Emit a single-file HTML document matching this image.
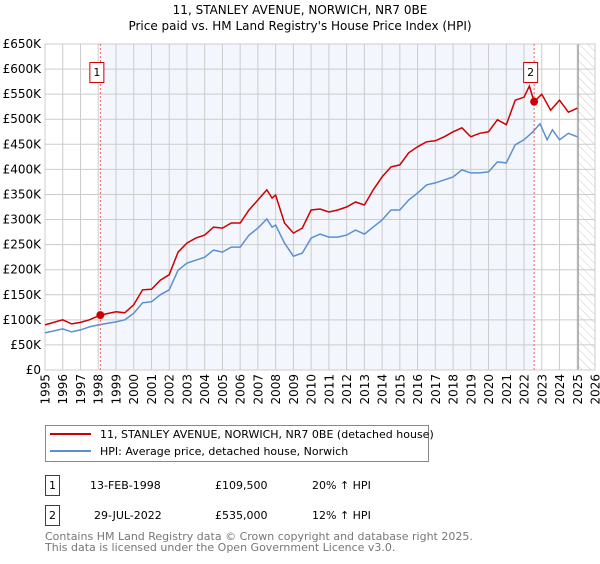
<!DOCTYPE html>
<html><head><meta charset="utf-8"><style>
body{margin:0;background:#fff;font-family:"DejaVu Sans","Liberation Sans",sans-serif;}
svg text{font-family:"DejaVu Sans","Liberation Sans",sans-serif;}
</style></head><body>
<svg id="chart" width="600" height="560" xmlns="http://www.w3.org/2000/svg">
<defs><pattern id="hatch" width="6" height="6" patternUnits="userSpaceOnUse" patternTransform="rotate(-45)"><rect width="6" height="6" fill="#fff"/><line x1="0" y1="0" x2="0" y2="6" stroke="#ccc" stroke-width="1"/></pattern></defs>
<text x="300" y="14" text-anchor="middle" font-size="12">11, STANLEY AVENUE, NORWICH, NR7 0BE</text>
<text x="300" y="30" text-anchor="middle" font-size="12">Price paid vs. HM Land Registry's House Price Index (HPI)</text>
<g id="bg"></g><g id="grid"></g><g id="axes"></g><g id="series"></g><g id="marks"></g>
<rect x="45.5" y="425.5" width="383" height="36" fill="#fff" stroke="#888"/>
<line x1="50" y1="434" x2="91" y2="434" stroke="#cc0000" stroke-width="2"/>
<text x="100" y="438" font-size="11">11, STANLEY AVENUE, NORWICH, NR7 0BE (detached house)</text>
<line x1="50" y1="451" x2="91" y2="451" stroke="#5b8fd0" stroke-width="2"/>
<text x="100" y="455" font-size="11">HPI: Average price, detached house, Norwich</text>
<g font-size="11">
<rect x="45.5" y="475.5" width="14" height="20" fill="#fff" stroke="#cc0000"/><text x="52.5" y="489" text-anchor="middle">1</text>
<text x="90" y="489">13-FEB-1998</text><text x="215" y="489">£109,500</text><text x="312" y="489">20% ↑ HPI</text></g>
<g font-size="11">
<rect x="45.5" y="505.5" width="14" height="20" fill="#fff" stroke="#cc0000"/><text x="52.5" y="519" text-anchor="middle">2</text>
<text x="94" y="519">29-JUL-2022</text><text x="215" y="519">£535,000</text><text x="312" y="519">12% ↑ HPI</text></g>
<text x="45" y="540" font-size="11" fill="#777">Contains HM Land Registry data © Crown copyright and database right 2025.</text>
<text x="45" y="551" font-size="11" fill="#777">This data is licensed under the Open Government Licence v3.0.</text>
</svg>
<script>
const hpiYears=[1995,1996,1996.5,1997,1997.5,1998,1999,1999.5,2000,2000.5,2001,2001.5,2002,2002.5,2003,2003.5,2004,2004.5,2005,2005.5,2006,2006.5,2007,2007.5,2007.8,2008,2008.5,2009,2009.5,2010,2010.5,2011,2011.5,2012,2012.5,2013,2013.5,2014,2014.5,2015,2015.5,2016,2016.5,2017,2017.5,2018,2018.5,2019,2019.5,2020,2020.5,2021,2021.5,2022,2022.5,2022.9,2023.3,2023.6,2024,2024.5,2025];
const hpiValues=[74,82,76,80,86,90,96,100,113,134,136,150,160,199,213,219,225,239,235,245,245,269,283,301,285,289,253,227,233,263,271,265,265,269,279,271,285,299,319,319,339,353,369,373,379,385,399,393,393,395,415,413,449,459,475,491,459,479,459,472,465];
const propYears=[1995,1996,1996.5,1997,1997.5,1998.12,1999,1999.5,2000,2000.5,2001,2001.5,2002,2002.5,2003,2003.5,2004,2004.5,2005,2005.5,2006,2006.5,2007,2007.5,2007.8,2008,2008.5,2009,2009.5,2010,2010.5,2011,2011.5,2012,2012.5,2013,2013.5,2014,2014.5,2015,2015.5,2016,2016.5,2017,2017.5,2018,2018.5,2019,2019.5,2020,2020.5,2021,2021.5,2022,2022.3,2022.57,2023,2023.5,2024,2024.5,2025];
const propValues=[90,100,92,95,100,109.5,116,114,130,160,161,179,190,235,253,263,269,285,283,293,293,319,339,359,343,349,293,273,283,319,321,315,319,325,335,329,359,385,405,409,433,445,455,457,465,475,483,465,472,475,499,489,538,544,566,535,550,518,538,514,522];
const saleYears=[1998.12,2022.57];
const saleValues=[109.5,535];
const saleLabels=["1","2"];
const yTicks=[0,50,100,150,200,250,300,350,400,450,500,550,600,650];
const xTicks=[1995,1996,1997,1998,1999,2000,2001,2002,2003,2004,2005,2006,2007,2008,2009,2010,2011,2012,2013,2014,2015,2016,2017,2018,2019,2020,2021,2022,2023,2024,2025,2026];
const L=45,R=595,T=44,B=370,X0=1995,X1=2026,YMAX=650,DATA_END=2025.05;
const x=v=>L+(v-X0)/(X1-X0)*(R-L);
const y=v=>B-v/YMAX*(B-T);
const NS="http://www.w3.org/2000/svg";
function mk(tag,parent,attrs){const e=document.createElementNS(NS,tag);for(const k in attrs)e.setAttribute(k,attrs[k]);document.getElementById(parent).appendChild(e);return e;}
let e;
e=mk('rect','bg',{x:L,y:T,width:R-L,height:B-T,fill:'#fff'});


e=mk('rect','bg',{x:x(saleYears[0]),y:T,width:x(saleYears[1])-x(saleYears[0]),height:B-T,fill:'#f3f6fd'});


e=mk('rect','bg',{x:x(DATA_END),y:T,width:R-x(DATA_END),height:B-T,fill:'url(#hatch)'});


yTicks.forEach(t=>{
 e=mk('line','grid',{x1:L,x2:R,y1:y(t),y2:y(t),stroke:'#ccc','stroke-width':1});
 
 
 e=mk('text','axes',{x:L-4,y:y(t)+4,'text-anchor':'end','font-size':12});
 
 
 e.textContent=t===0?'£0':'£'+t+'K';
});
xTicks.forEach(t=>{
 e=mk('line','grid',{x1:x(t),x2:x(t),y1:T,y2:B,stroke:'#ccc','stroke-width':1});
 
 
 const tx=x(t)+4.5,ty=374;
 e=mk('text','axes',{x:tx,y:ty,'text-anchor':'end','font-size':12,transform:'rotate(-90 '+tx+' '+ty+')'});
 
 
 e.textContent=t;
});
e=mk('line','grid',{x1:x(DATA_END),x2:x(DATA_END),y1:T,y2:B,stroke:'#888','stroke-width':1});


e=mk('rect','grid',{x:L,y:T,width:R-L,height:B-T,fill:'none',stroke:'#ccc'});


function path(xs,vs){return xs.map((v,i)=>(i?'L':'M')+x(v).toFixed(1)+','+y(vs[i]).toFixed(1)).join('');}
e=mk('path','series',{d:path(hpiYears,hpiValues),fill:'none',stroke:'#5b8fd0','stroke-width':1.5});


e=mk('path','series',{d:path(propYears,propValues),fill:'none',stroke:'#cc0000','stroke-width':1.5});


saleYears.forEach((s,i)=>{
 e=mk('line','marks',{x1:x(s),x2:x(s),y1:T,y2:B,stroke:'#f06060','stroke-dasharray':'2,2','stroke-width':1});
 
 
 e=mk('circle','marks',{cx:x(s),cy:y(saleValues[i]),r:4,fill:'#cc0000'});
 
 
 e=mk('rect','marks',{x:x(s)-10.5,y:62.5,width:14,height:20,fill:'#fff',stroke:'#cc0000'});
 
 
 e=mk('text','marks',{x:x(s)-3.5,y:76,'text-anchor':'middle','font-size':11});
 
 
 e.textContent=saleLabels[i];
});
</script>
</body></html>
